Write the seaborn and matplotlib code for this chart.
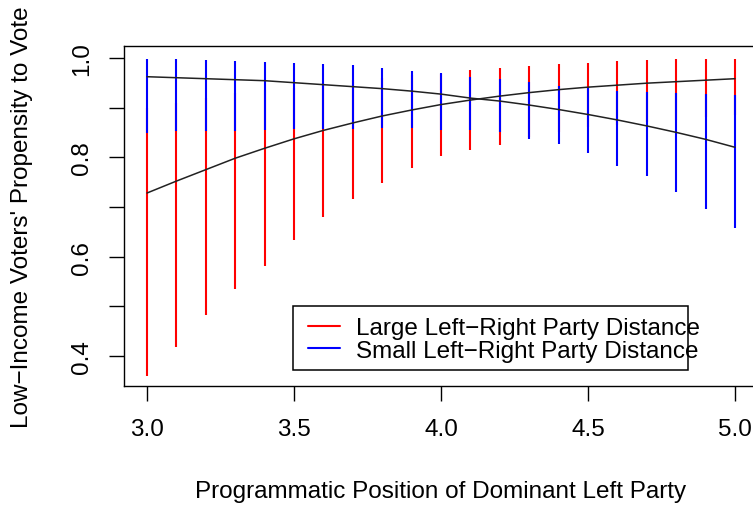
import matplotlib
matplotlib.use("Agg")
import matplotlib.pyplot as plt
import matplotlib.patches as mpatches
import seaborn as sns
import pandas as pd

# ---- data ----
positions = [3.0, 3.1, 3.2, 3.3, 3.4, 3.5, 3.6, 3.7, 3.8, 3.9, 4.0,
             4.1, 4.2, 4.3, 4.4, 4.5, 4.6, 4.7, 4.8, 4.9, 5.0]
large_fit = [0.728, 0.752, 0.775, 0.798, 0.818, 0.837, 0.854, 0.869, 0.883, 0.895, 0.906,
             0.915, 0.923, 0.930, 0.936, 0.941, 0.945, 0.949, 0.952, 0.955, 0.958]
small_fit = [0.962, 0.960, 0.958, 0.956, 0.954, 0.950, 0.946, 0.942, 0.938, 0.933, 0.927,
             0.919, 0.913, 0.905, 0.896, 0.886, 0.875, 0.863, 0.850, 0.836, 0.820]
large_lo = [0.359, 0.419, 0.483, 0.535, 0.582, 0.633, 0.679, 0.715, 0.748, 0.779, 0.802,
            0.815, 0.825, 0.840, 0.850, 0.860, 0.865, 0.870, 0.875, 0.880, 0.885]
large_hi = [0.900, 0.910, 0.920, 0.930, 0.935, 0.940, 0.950, 0.955, 0.960, 0.965, 0.968,
            0.976, 0.979, 0.983, 0.987, 0.990, 0.993, 0.995, 0.997, 0.997, 0.998]
small_lo = [0.848, 0.852, 0.853, 0.853, 0.854, 0.856, 0.856, 0.856, 0.858, 0.858, 0.855,
            0.854, 0.850, 0.837, 0.827, 0.808, 0.782, 0.763, 0.731, 0.695, 0.658]
small_hi = [0.998, 0.998, 0.996, 0.994, 0.992, 0.990, 0.988, 0.985, 0.980, 0.974, 0.970,
            0.962, 0.958, 0.951, 0.943, 0.939, 0.934, 0.931, 0.929, 0.927, 0.925]

x_ticks = [3.0, 3.5, 4.0, 4.5, 5.0]
y_ticks = [0.4, 0.5, 0.6, 0.7, 0.8, 0.9, 1.0]
y_ticklabels = ["0.4", "", "0.6", "", "0.8", "", "1.0"]
legend_labels = ["Large Left\u2212Right Party Distance", "Small Left\u2212Right Party Distance"]
xlabel = "Programmatic Position of Dominant Left Party"
ylabel = "Low\u2212Income Voters' Propensity to Vote"

sns.set_style("white")
plt.rcParams["font.family"] = ["Liberation Sans", "DejaVu Sans"]
plt.rcParams["text.color"] = "black"
plt.rcParams["axes.labelcolor"] = "black"
plt.rcParams["xtick.color"] = "black"
plt.rcParams["ytick.color"] = "black"

FS = 17.5
fig = plt.figure(figsize=(7.53, 5.06), dpi=100)
ax = fig.add_axes([123.5 / 753, 119 / 506, 635 / 753, 340 / 506])

df = pd.DataFrame({"x": positions, "large": large_fit, "small": small_fit})

ax.vlines(positions, large_lo, large_hi, colors="#FF0000", linewidth=1.5, capstyle="butt", zorder=2)
ax.vlines(positions, small_lo, small_hi, colors="#0000FF", linewidth=1.5, capstyle="butt", zorder=3)
sns.lineplot(data=df, x="x", y="large", ax=ax, color="#222222", linewidth=1.1, zorder=4)
sns.lineplot(data=df, x="x", y="small", ax=ax, color="#222222", linewidth=1.1, zorder=4)

ax.set_xlim(2.92, 5.08)
ax.set_ylim(0.3397, 1.0238)
ax.set_xticks(x_ticks)
ax.set_xticklabels([f"{v:.1f}" for v in x_ticks])
ax.set_yticks(y_ticks)
ax.set_yticklabels(y_ticklabels)
plt.setp(ax.get_yticklabels(), rotation=90, va="center")
ax.tick_params(axis="both", direction="out", length=11, width=1.0, labelsize=FS,
               left=True, bottom=True)
ax.tick_params(axis="x", pad=12)
ax.tick_params(axis="y", pad=11)

for s in ax.spines.values():
    s.set_color("black")
    s.set_linewidth(1.0)

ax.set_xlabel(xlabel, fontsize=FS, va="center")
ax.xaxis.set_label_coords(0.5, (387 - 492) / 340)
ax.set_ylabel(ylabel, fontsize=FS, va="center")
ax.yaxis.set_label_coords((22 - 123.5) / 635, 0.5)

handles = [plt.Line2D([], [], color="#FF0000", lw=1.5),
           plt.Line2D([], [], color="#0000FF", lw=1.5)]
leg = ax.legend(handles, legend_labels, loc="upper left",
                bbox_to_anchor=(308 / 753, (506 - 318) / 506), bbox_transform=fig.transFigure,
                frameon=False, fontsize=FS, handlelength=1.32, handletextpad=0.66,
                labelspacing=0.04, borderpad=0, borderaxespad=0)
rect = mpatches.Rectangle((293 / 753, (506 - 371) / 506), 395 / 753, 64 / 506,
                          transform=fig.transFigure, fill=False, edgecolor="black",
                          linewidth=1.1, zorder=5)
fig.patches.append(rect)

fig.savefig("out.png", dpi=100)
